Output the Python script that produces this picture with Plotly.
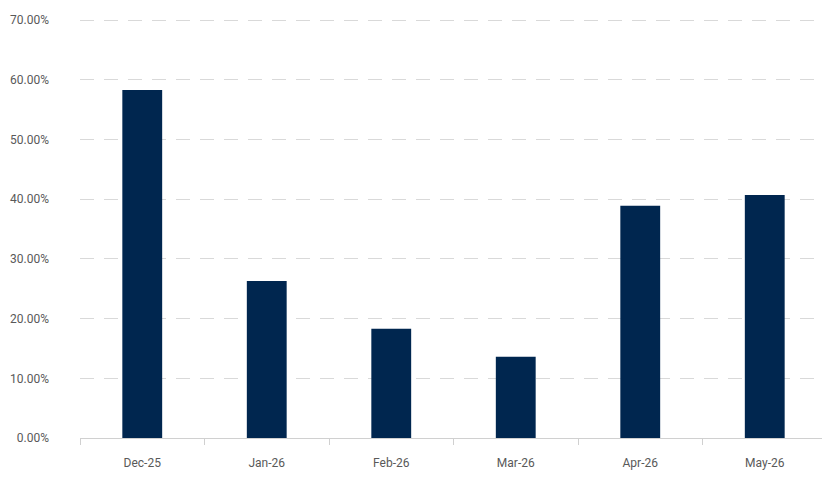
import plotly.graph_objs as go

# Monate und Werte (in %)
months = ['Dec-25', 'Jan-26', 'Feb-26', 'Mar-26', 'Apr-26', 'May-26']
values = [58.3, 26.3, 18.3, 13.6, 38.9, 40.7]
y_ticks = [0, 10, 20, 30, 40, 50, 60, 70]
y_labels = [f'{v:.2f}%' for v in y_ticks]

fig = go.Figure()

fig.add_trace(go.Bar(x=months, y=values, marker=dict(color='#00264f', line=dict(width=0))))

# Layout anpassen (Seite hat 8px Rand)
fig.update_layout(width=830, height=480,
                  margin=dict(l=72, r=11, t=11, b=50),
                  plot_bgcolor='white', paper_bgcolor='white',
                  bargap=0.68, showlegend=False,
                  font=dict(family='Roboto', size=12, color='#595959'))

# Achsen
fig.update_xaxes(showgrid=False, showline=True, linecolor='#d0d0d0', linewidth=1,
                 ticks='outside', tickson='boundaries', ticklen=6, tickcolor='#d0d0d0',
                 ticklabelstandoff=14, automargin=False)
fig.update_yaxes(range=[0, 70.2], tickvals=y_ticks, ticktext=y_labels,
                 showgrid=True, gridcolor='#d9d9d9', gridwidth=1, griddash='14px,10px',
                 zeroline=False, showline=False, ticks='', ticklabelstandoff=30,
                 automargin=False)

fig.write_html("out.html")
